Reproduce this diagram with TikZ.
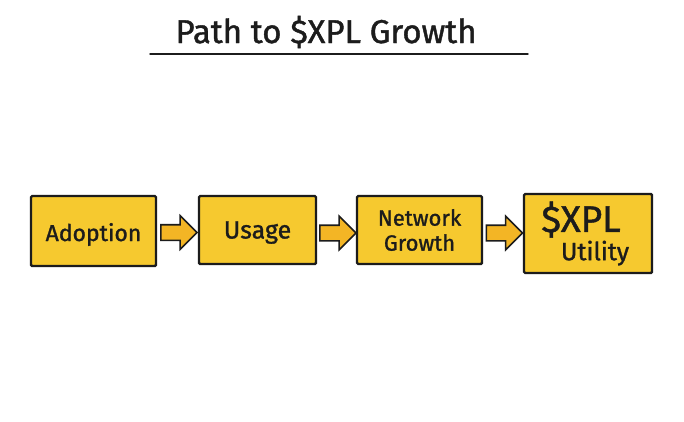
\documentclass[tikz,border=0pt]{standalone}
\usepackage{fontspec}
\setmainfont{Fira Sans}[RawFeature={embolden=1.2}]
\usetikzlibrary{shapes.arrows}
\definecolor{boxfill}{HTML}{F6C92F}
\definecolor{arrfill}{HTML}{F3B525}
\definecolor{ink}{HTML}{1C1C1C}
\tikzset{
  stagebox/.style={draw=ink, line width=2.4pt, fill=boxfill, rounded corners=1.2pt,
    inner sep=0pt, align=center, text=ink, font=\fontsize{23}{25}\selectfont},
  flowarrow/.style={single arrow, draw=ink, line width=1.6pt, fill=arrfill,
    single arrow head extend=9pt, single arrow head indent=0pt,
    inner xsep=0pt, inner ysep=7pt, minimum height=36pt, anchor=center},
}
\begin{document}
\begin{tikzpicture}[x=1pt,y=1pt]
\useasboundingbox[fill=white] (0,0) rectangle (684,-421);
\node[text=ink, font=\fontsize{33}{35}\selectfont] (title) at (326,-32) {Path to \$XPL Growth};
\coordinate (ul1) at (150,-54);
\coordinate (ul2) at (528,-54);
\draw[ink, line width=1.4pt, line cap=round] (ul1) -- (ul2);

\node[stagebox, minimum width=125pt, minimum height=70pt] (adopt) at (93.5,-231) {\raisebox{-4pt}[17pt][5pt]{Adoption}};
\node[stagebox, minimum width=117pt, minimum height=68pt, font=\fontsize{25}{27}\selectfont] (usage) at (257.5,-230) {\raisebox{-2pt}[18pt][5pt]{Usage}};
\node[stagebox, minimum width=125pt, minimum height=68pt, font=\fontsize{22}{25}\selectfont] (net) at (419.5,-230) {Network\\Growth};
\node[stagebox, minimum width=128pt, minimum height=79pt] (xpl) at (588,-233.5)
  {\hspace*{-14pt}{\fontsize{37}{37}\selectfont \$XPL}\\[2pt]\hspace*{14pt}{\fontsize{25}{25}\selectfont Utility}};

\path ([yshift=-2pt]adopt.east) -- ([yshift=-2pt,xshift=-5pt]usage.west) node[midway, flowarrow] (a1) {};
\path ([yshift=-3pt]usage.east) -- ([yshift=-3pt,xshift=-5pt]net.west) node[midway, flowarrow] (a2) {};
\path ([yshift=-3pt]net.east) -- ([yshift=-3pt,xshift=-5pt]net.east -| xpl.west) node[midway, flowarrow] (a3) {};
\end{tikzpicture}
\end{document}
